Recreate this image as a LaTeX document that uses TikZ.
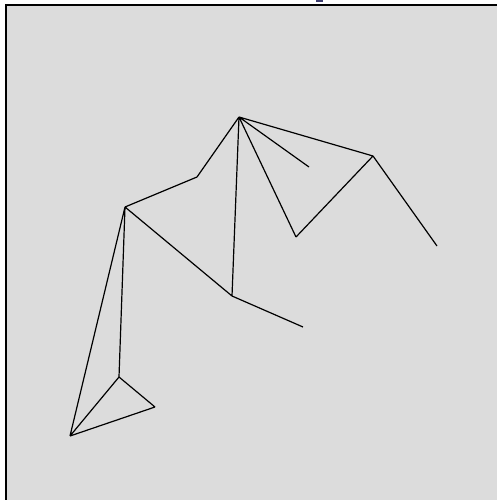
\documentclass[tikz,border=0pt]{standalone}
\definecolor{bg}{RGB}{220,220,220}
\definecolor{titleblue}{RGB}{60,60,110}
\tikzset{pt/.style={coordinate}, edge/.style={draw=black, line width=1.2pt}}
\begin{document}
\begin{tikzpicture}[x=1pt,y=-1pt]
\useasboundingbox (0,0) rectangle (497,500);
\fill[white] (0,0) rectangle (497,500);
\draw[fill=bg, line width=2pt] (6,5) rectangle (520,520);
\fill[titleblue] (316,0) rectangle (323,2.5);
\node[pt] (A) at (239,117) {};
\node[pt] (B) at (197,177) {};
\node[pt] (C) at (125,207) {};
\node[pt] (D) at (232,296) {};
\node[pt] (E) at (303,327) {};
\node[pt] (F) at (309,167) {};
\node[pt] (G) at (296,237) {};
\node[pt] (H) at (373,156) {};
\node[pt] (I) at (437,246) {};
\node[pt] (J) at (119,377) {};
\node[pt] (K) at (70,436) {};
\node[pt] (L) at (155,407) {};
\path[edge] (A) -- (B) (B) -- (C) (C) -- (D) (D) -- (E) (A) -- (D)
  (A) -- (F) (A) -- (G) (A) -- (H) (H) -- (I) (G) -- (H)
  (C) -- (J) (C) -- (K) (J) -- (K) (J) -- (L) (L) -- (K);
\end{tikzpicture}
\end{document}
